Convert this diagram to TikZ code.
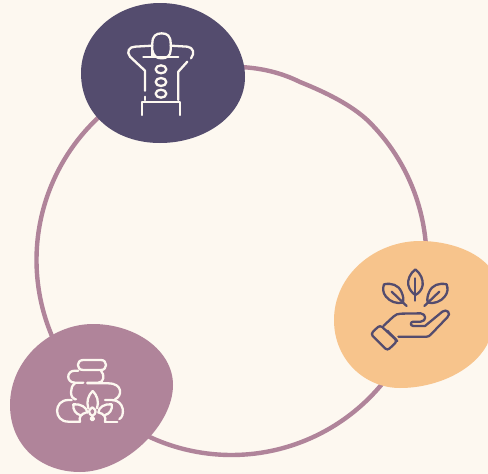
\documentclass[tikz,border=0pt]{standalone}
\usepackage{xcolor}
\definecolor{paper}{HTML}{FDF8F0}
\definecolor{ringcol}{HTML}{B0849A}
\definecolor{plum}{HTML}{544C6E}
\definecolor{peach}{HTML}{F7C48C}
\tikzset{
  ringline/.style={line width=4.4pt,color=ringcol},
  iconline/.style={line width=2.3pt,line cap=round,line join=round},
}
\begin{document}
\begin{tikzpicture}[x=1pt,y=-1pt]
    \useasboundingbox (0,0) rectangle (488,474);
    \fill[paper] (0,0) rectangle (488,474);
    % ring, three separate arcs between the blobs
    \draw[ringline] (240,67) .. controls (262,68) and (282,73) .. (300,82) .. controls (325,92) and (352,105) .. (369.4,122.1) -- plot[domain=-45:-5,smooth,samples=40] ({231.5+195*cos(\x)},{260+195*sin(\x)});
    \draw[ringline] plot[domain=38:115,smooth,samples=40] ({231.5+195*cos(\x)},{260+195*sin(\x)});
    \draw[ringline] plot[domain=157:228,smooth,samples=40] ({231.5+195*cos(\x)},{260+195*sin(\x)});
    % blobs
    \fill[plum] (160,3) .. controls (207,3) and (245,37) .. (245,77) .. controls (245,115) and (205,143) .. (160,143) .. controls (115,143) and (81,115) .. (81,73) .. controls (81,35) and (115,3) .. (160,3) -- cycle;
    \fill[peach] (420,241) .. controls (450,241) and (478,252) .. (490,268) .. controls (498,285) and (497,322) .. (487,345) .. controls (472,372) and (435,388) .. (400,388) .. controls (365,388) and (334,360) .. (334,320) .. controls (334,275) and (375,241) .. (420,241) -- cycle;
    \fill[ringcol] (93,324) .. controls (135,324) and (173,350) .. (173,385) .. controls (173,425) and (125,472) .. (80,472) .. controls (40,472) and (10,445) .. (10,405) .. controls (10,360) and (50,324) .. (93,324) -- cycle;
    % back icon
    \begin{scope}[shift={(80,0)},scale=1/3,iconline,color=paper]
      \draw (217,170) -- (217,130) .. controls (217,108) and (228,100) .. (245,100) .. controls (262,100) and (272,108) .. (272,130) -- (272,150) .. controls (272,168) and (260,175) .. (245,175) .. controls (230,175) and (220,168) .. (217,150);
      \draw (190,170) -- (295,170);
      \draw (217,137) -- (165,140) .. controls (148,140) and (138,155) .. (150,170) -- (195,212) -- (195,272);
      \draw (195,290) -- (195,300);
      \draw (272,137) -- (322,140) .. controls (340,142) and (345,160) .. (333,175);
      \draw (322,185) -- (295,215) -- (295,300);
      \draw (187,345) -- (187,305) -- (300,305) -- (300,345);
      \foreach \y in {208,246,281}{
        \draw (243,\y) ellipse (16 and 12);
      }
    \end{scope}
    % hand with leaves
    \begin{scope}[shift={(330,240)},scale=1/3,iconline,color=plum]
      \draw (256,88) .. controls (240,100) and (232,120) .. (235,135) .. controls (238,150) and (248,160) .. (256,165) .. controls (266,160) and (276,150) .. (278,135) .. controls (280,120) and (272,100) .. (256,88) -- cycle;
      \draw (256,115) -- (256,182);
      \draw (162,133) .. controls (185,128) and (205,135) .. (214,155) .. controls (220,168) and (222,180) .. (218,188) .. controls (200,192) and (180,185) .. (168,170) .. controls (158,158) and (158,145) .. (162,133) -- cycle;
      \draw (185,155) -- (230,198);
      \draw (350,133) .. controls (327,128) and (307,135) .. (298,155) .. controls (292,168) and (290,180) .. (294,188) .. controls (312,192) and (332,185) .. (344,170) .. controls (354,158) and (354,145) .. (350,133) -- cycle;
      \draw (328,155) -- (283,198);
      \draw[rounded corners=3pt] (150,255) -- (122,282) -- (172,332) -- (202,303) -- cycle;
      \draw (160,258) -- (190,230) .. controls (197,224) and (203,221) .. (212,221) -- (272,220) .. controls (290,222) and (290,244) .. (272,245) -- (250,245) .. controls (240,245) and (240,258) .. (250,258) -- (285,258) -- (337,215) .. controls (350,205) and (365,220) .. (352,232) -- (302,284) .. controls (298,288) and (295,290) .. (290,290) -- (205,290);
      \draw (172,272) -- (202,303);
    \end{scope}
    % stones with flower
    \begin{scope}[shift={(0,320)},scale=1/3,iconline,color=paper]
      \draw (250,150) .. controls (228,150) and (228,120) .. (250,120) -- (303,120) .. controls (323,120) and (323,150) .. (303,150) -- cycle;
      \draw (235,152) -- (225,152) .. controls (198,152) and (198,188) .. (225,188) -- (250,188);
      \draw (262,188) -- (295,188) .. controls (312,188) and (315,165) .. (303,152);
      \draw (225,190) .. controls (208,200) and (210,235) .. (225,238) -- (228,238);
      \draw (262,190) -- (325,190) .. controls (368,190) and (368,228) .. (345,238);
      \draw (215,240) -- (205,240) .. controls (160,240) and (160,305) .. (205,305) -- (240,305);
      \draw (315,240) -- (335,240) .. controls (375,240) and (375,290) .. (358,297);
      \draw (315,305) -- (352,305);
      \draw (278,213) .. controls (265,225) and (258,245) .. (265,265);
      \draw (278,213) .. controls (291,225) and (298,245) .. (291,265);
      \draw (220,253) .. controls (240,250) and (262,262) .. (262,278);
      \draw (220,253) .. controls (218,270) and (228,282) .. (240,285);
      \draw (335,253) .. controls (315,250) and (295,262) .. (295,278);
      \draw (335,253) .. controls (338,270) and (328,282) .. (315,285);
      \draw (258,278) .. controls (245,280) and (235,292) .. (240,305);
      \draw (297,278) .. controls (310,280) and (320,292) .. (315,305);
      \draw (277,262) .. controls (264,270) and (264,280) .. (277,288) .. controls (290,280) and (290,270) .. (277,262);
      \draw (277,296) circle (5);
    \end{scope}
\end{tikzpicture}
\end{document}
